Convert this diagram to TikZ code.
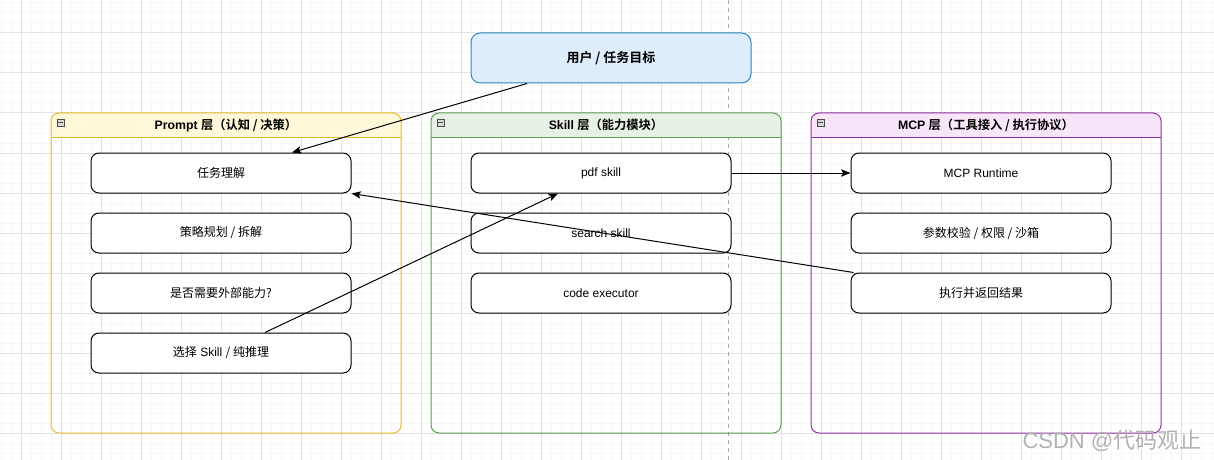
\documentclass[tikz,border=0pt]{standalone}
\usepackage{fontspec}
\setmainfont{Liberation Sans}
\newfontfamily\cjk{Noto Sans CJK SC}[BoldFont={Noto Sans CJK SC Bold}]
\usetikzlibrary{arrows.meta,calc}
\definecolor{gridmin}{HTML}{F7F7F7}
\definecolor{gridmaj}{HTML}{E2E2E2}
\definecolor{topfill}{HTML}{DDEDFB}
\definecolor{topdraw}{HTML}{2E86C1}
\definecolor{pdraw}{HTML}{E8B92E}
\definecolor{pfill}{HTML}{FFF8D9}
\definecolor{sdraw}{HTML}{5E9E57}
\definecolor{sfill}{HTML}{E6F2E3}
\definecolor{mdraw}{HTML}{9232A6}
\definecolor{mfill}{HTML}{F6E6F8}
\newcommand{\zh}[1]{{\cjk #1}}
\tikzset{
  itembox/.style={draw=black, line width=0.75pt, fill=white, rounded corners=6pt,
    minimum width=195pt, minimum height=30pt, font=\fontsize{9}{11}\selectfont},
  topbox/.style={draw=topdraw, line width=0.75pt, fill=topfill, rounded corners=7pt,
    minimum width=210pt, minimum height=37.5pt, font=\bfseries\fontsize{9.75}{12}\selectfont},
  hdr/.style={font=\bfseries\fontsize{9.2}{11}\selectfont},
  conn/.style={draw=black, line width=0.75pt, -{Stealth[length=7pt,width=5.5pt,inset=1.5pt]}},
  colicon/.style={draw=black!70, fill=black!15, line width=0.5pt, minimum size=5pt, inner sep=0pt}
}
\begin{document}
\begin{tikzpicture}[x=0.75pt,y=-0.75pt]
\useasboundingbox (0,0) rectangle (1214,460);
\fill[white] (0,0) rectangle (1214,460);
% grid
\foreach \x in {1.7,11.7,...,1214} \draw[gridmin, line width=0.75pt] (\x,0) -- (\x,460);
\foreach \y in {3,13,...,460} \draw[gridmin, line width=0.75pt] (0,\y) -- (1214,\y);
\foreach \x in {21.7,61.7,...,1214} \draw[gridmaj, line width=0.75pt] (\x,0) -- (\x,460);
\foreach \y in {33,73,...,460} \draw[gridmaj, line width=0.75pt] (0,\y) -- (1214,\y);
\draw[black!35, dashed, line width=0.75pt] (728,0) -- (728,460);

% containers
\fill[pfill] (51,137) {[rounded corners=6pt] -- (51,113) -- (401,113)} -- (401,137) -- cycle;
\draw[pdraw, line width=0.75pt, rounded corners=6pt] (51,113) rectangle (401,433);
\draw[pdraw, line width=0.75pt] (51,137) -- (401,137);
\node[hdr] (ptitle) at (226,125) {Prompt \zh{层（认知 / 决策）}};
\node[colicon] (picon) at (60.5,122.5) {};
\draw[black!70, line width=0.5pt] ($(picon.west)+(1.5,0)$) -- ($(picon.east)+(-1.5,0)$);

\fill[sfill] (431,137) {[rounded corners=6pt] -- (431,113) -- (781,113)} -- (781,137) -- cycle;
\draw[sdraw, line width=0.75pt, rounded corners=6pt] (431,113) rectangle (781,433);
\draw[sdraw, line width=0.75pt] (431,137) -- (781,137);
\node[hdr] (stitle) at (606,125) {Skill \zh{层（能力模块）}};
\node[colicon] (sicon) at (440.5,122.5) {};
\draw[black!70, line width=0.5pt] ($(sicon.west)+(1.5,0)$) -- ($(sicon.east)+(-1.5,0)$);

\fill[mfill] (811,137) {[rounded corners=6pt] -- (811,113) -- (1161,113)} -- (1161,137) -- cycle;
\draw[mdraw, line width=0.75pt, rounded corners=6pt] (811,113) rectangle (1161,433);
\draw[mdraw, line width=0.75pt] (811,137) -- (1161,137);
\node[hdr] (mtitle) at (986,125) {MCP \zh{层（工具接入 / 执行协议）}};
\node[colicon] (micon) at (820.5,122.5) {};
\draw[black!70, line width=0.5pt] ($(micon.west)+(1.5,0)$) -- ($(micon.east)+(-1.5,0)$);

% top box
\node[topbox] (top) at (611,58) {\zh{用户 / 任务目标}};

% prompt items
\node[itembox] (p1) at (221,173) {\zh{任务理解}};
\node[itembox] (p2) at (221,233) {\zh{策略规划 / 拆解}};
\node[itembox] (p3) at (221,293) {\zh{是否需要外部能力?}};
\node[itembox] (p4) at (221,353) {\zh{选择} Skill \zh{/ 纯推理}};

% skill items
\node[itembox] (s1) at (601,173) {pdf skill};
\node[itembox] (s2) at (601,233) {search skill};
\node[itembox] (s3) at (601,293) {code executor};

% mcp items
\node[itembox] (m1) at (981,173) {MCP Runtime};
\node[itembox] (m2) at (981,233) {\zh{参数校验 / 权限 / 沙箱}};
\node[itembox] (m3) at (981,293) {\zh{执行并返回结果}};

% connectors
\draw[conn] ($(top.south)+(-84,0)$) -- ($(p1.north)+(71,0)$);
\draw[conn] ($(p4.north)+(44,0)$) -- ($(s1.south)+(-43,0)$);
\draw[conn] (s1.east) -- (m1.west);
\draw[conn] ($(m3.north west)+(3,0)$) -- (p1.south east);

% watermark
\node[text=black!30, font=\fontsize{16.5}{19}\selectfont, anchor=east] (wm) at (1206,441) {CSDN @\zh{代码观止}};
\end{tikzpicture}
\end{document}
